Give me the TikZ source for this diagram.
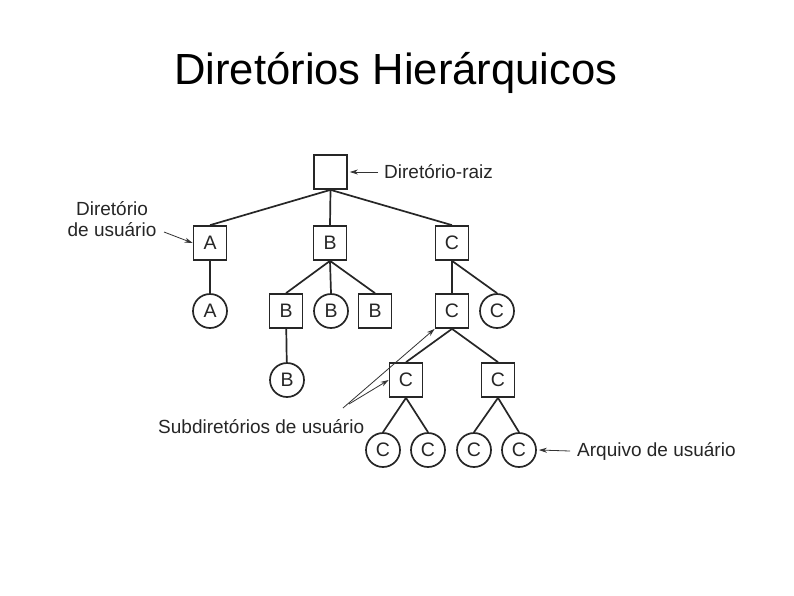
\documentclass[tikz,border=0pt]{standalone}
\usepackage{fontspec}
\setmainfont{Liberation Sans}
\usetikzlibrary{arrows.meta}
\begin{document}
\begin{tikzpicture}[x=1pt,y=-1pt,
  dirbox/.style={draw=black!85, line width=1.7pt, minimum width=33pt, minimum height=34pt, inner sep=0pt, font=\fontsize{19.5}{22}\selectfont, text=black!85},
  filecirc/.style={draw=black!85, circle, line width=1.7pt, minimum size=34pt, inner sep=0pt, font=\fontsize{19.5}{22}\selectfont, text=black!85},
  edge/.style={draw=black!85, line width=1.7pt},
  lbl/.style={font=\fontsize{19}{21}\selectfont, text=black!85, inner sep=0pt},
  ptr/.style={draw=black!80, line width=0.8pt, -{Stealth[length=8pt,width=5pt]}}]
\useasboundingbox[fill=white] (0,0) rectangle (794,595);
\node[font=\fontsize{43.6}{50}\selectfont, anchor=west, inner sep=0pt] (title) at (174,73) {Diretórios Hierárquicos};
% directories
\node[dirbox] (root) at (330.5,172) {};
\node[dirbox] (A) at (210,243) {A};
\node[dirbox] (B) at (330,243) {B};
\node[dirbox] (C) at (452,243) {C};
\node[filecirc] (fA) at (210,311) {A};
\node[dirbox] (B1) at (286,311) {B};
\node[filecirc] (fB1) at (331,311) {B};
\node[dirbox] (B2) at (375,311) {B};
\node[dirbox] (C1) at (452,311) {C};
\node[filecirc] (fC1) at (497,311) {C};
\node[filecirc] (fB2) at (287,380) {B};
\node[dirbox] (C2) at (406,380) {C};
\node[dirbox] (C3) at (498,380) {C};
\node[filecirc] (f1) at (383,450) {C};
\node[filecirc] (f2) at (428,450) {C};
\node[filecirc] (f3) at (474,450) {C};
\node[filecirc] (f4) at (519,450) {C};
% edges
\draw[edge] (root.south) -- (A.north);
\draw[edge] (root.south) -- (B.north);
\draw[edge] (root.south) -- (C.north);
\draw[edge] (A) -- (fA);
\draw[edge] (B.south) -- (B1.north);
\draw[edge] (B.south) -- (fB1.north);
\draw[edge] (B.south) -- (B2.north);
\draw[edge] (C) -- (C1);
\draw[edge] (C.south) -- (fC1.north);
\draw[edge] (B1) -- (fB2);
\draw[edge] (C1.south) -- (C2.north);
\draw[edge] (C1.south) -- (C3.north);
\draw[edge] (C2.south) -- (f1.north);
\draw[edge] (C2.south) -- (f2.north);
\draw[edge] (C3.south) -- (f3.north);
\draw[edge] (C3.south) -- (f4.north);
% labels
\node[lbl, anchor=west] (lroot) at (384,172) {Diretório-raiz};
\draw[ptr] (lroot.west) ++(-6,0) coordinate (lr0) -- ([xshift=2pt]root.east);
\node[lbl, align=center] (luser) at (112,219) {Diretório\\de usuário};
\coordinate (lu0) at (164,232);
\draw[ptr] (lu0) -- (A.west);
\node[lbl, anchor=west] (lsub) at (158,427) {Subdiretórios de usuário};
\coordinate (ls1) at (343,408);
\coordinate (ls2) at (349,404);
\draw[ptr] (ls1) -- (C1.south west);
\draw[ptr] (ls2) -- (C2.west);
\node[lbl, anchor=west] (lfile) at (577,451) {Arquivo de usuário};
\draw[ptr] (lfile.west) ++(-7,0) coordinate (lf0) -- ([xshift=2pt]f4.east);
\end{tikzpicture}
\end{document}
